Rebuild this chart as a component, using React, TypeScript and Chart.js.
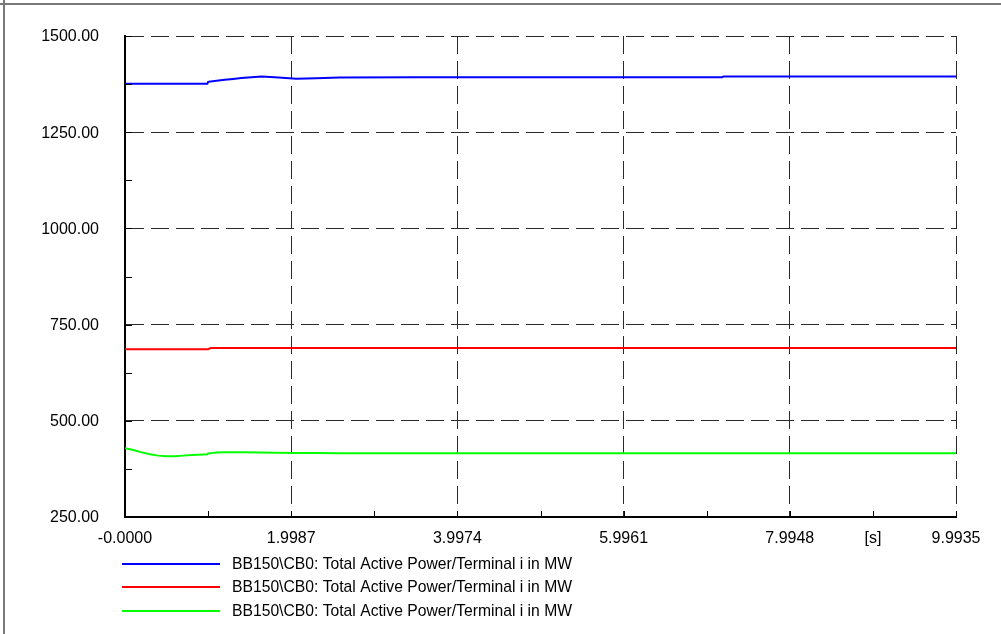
import React, { useEffect, useRef } from "react";
import { Chart, registerables } from "chart.js";

Chart.register(...registerables);

// ---- data ----
const times = [0, 0.1, 0.2, 0.3, 0.4, 0.5, 0.6, 0.7, 0.8, 0.95, 0.99, 1.0, 1.03, 1.1, 1.2, 1.3, 1.4, 1.64, 1.8, 2.06, 2.3, 2.58, 3.5, 7.18, 7.2, 9.9935];
const blueValues = [1376, 1376, 1376, 1376, 1376, 1376, 1376, 1376, 1376, 1376, 1376, 1381, 1382, 1383.5, 1386, 1388.5, 1391, 1395, 1393, 1389, 1390, 1392, 1393, 1393, 1395, 1395];
const redValues = [686, 686, 686, 686, 686, 686, 686, 686, 686, 686, 686, 686, 689, 689, 689, 689, 689, 689, 689, 689, 689, 689, 689, 689, 689, 689];
const greenValues = [428.5, 424, 418, 413, 409.5, 408, 408, 409.5, 411, 412.5, 413, 415, 416, 417.5, 418, 418, 418, 417.5, 417, 416, 416, 415.5, 415.5, 415.5, 415.5, 415.5];

const seriesLabels = [
  "BB150\\CB0: Total Active Power/Terminal i in MW",
  "BB150\\CB0: Total Active Power/Terminal i in MW",
  "BB150\\CB0: Total Active Power/Terminal i in MW",
];
const seriesColors = ["#0000ff", "#ff0000", "#00ff00"];

const xMin = 0;
const xMax = 9.9935;
const xStep = 0.99935; // minor step; every 2nd is a labelled major tick
const xUnitLabel = "[s]";
const yMin = 250;
const yMax = 1500;
const yStep = 125; // minor step; every 2nd is a labelled major tick

const FONT = 'Arial, "Liberation Sans", sans-serif';

export default function App() {
  const ref = useRef<HTMLCanvasElement | null>(null);

  useEffect(() => {
    const canvas = ref.current;
    if (!canvas) return;

    const series = [blueValues, redValues, greenValues];

    const framePlugin = {
      id: "frame",
      beforeDraw(chart: any) {
        const ctx = chart.ctx;
        ctx.save();
        ctx.fillStyle = "#ffffff";
        ctx.fillRect(0, 0, chart.width, chart.height);
        ctx.fillStyle = "#7a7a7a";
        ctx.fillRect(0, 3, chart.width, 2);
        ctx.fillRect(3, 0, 2, chart.height);
        ctx.restore();
      },
      afterDraw(chart: any) {
        const ctx = chart.ctx;
        const xs = chart.scales.x;
        const ys = chart.scales.y;
        const area = chart.chartArea;
        ctx.save();
        // inward tick marks
        ctx.strokeStyle = "#000000";
        ctx.lineWidth = 1;
        ctx.beginPath();
        for (let i = 1; i * xStep <= xMax + 1e-6; i++) {
          const px = Math.round(xs.getPixelForValue(i * xStep)) + 0.5;
          ctx.moveTo(px, area.bottom);
          ctx.lineTo(px, area.bottom - 6);
        }
        for (let v = yMin + yStep; v <= yMax + 1e-6; v += yStep) {
          const py = Math.round(ys.getPixelForValue(v)) + 0.5;
          ctx.moveTo(area.left, py);
          ctx.lineTo(area.left + 7, py);
        }
        ctx.stroke();
        // legend
        ctx.font = "15.7px " + FONT;
        ctx.textBaseline = "middle";
        ctx.textAlign = "left";
        const rowY = [564, 587, 611];
        chart.data.datasets.forEach((ds: any, i: number) => {
          ctx.strokeStyle = ds.borderColor;
          ctx.lineWidth = 2;
          ctx.beginPath();
          ctx.moveTo(122, rowY[i]);
          ctx.lineTo(220, rowY[i]);
          ctx.stroke();
          ctx.fillStyle = "#000000";
          ctx.fillText(ds.label, 232, rowY[i] + 1);
        });
        ctx.restore();
      },
    };

    const isMajorX = (v: number) => Math.abs(Math.round(v / xStep) % 2) === 0;

    const chart = new Chart(canvas, {
      type: "line",
      data: {
        datasets: series.map((vals, i) => ({
          label: seriesLabels[i],
          data: times.map((t, k) => ({ x: t, y: vals[k] })),
          borderColor: seriesColors[i],
          backgroundColor: seriesColors[i],
          borderWidth: 2,
          pointRadius: 0,
          tension: 0,
          fill: false,
        })),
      },
      options: {
        animation: false,
        responsive: false,
        maintainAspectRatio: false,
        layout: { padding: { left: 0, top: 36, right: 45, bottom: 0 } },
        plugins: {
          legend: { display: false },
          tooltip: { enabled: false },
        },
        scales: {
          x: {
            type: "linear",
            min: xMin,
            max: xMax,
            afterFit(scale: any) {
              scale.height = 117;
            },
            afterBuildTicks(scale: any) {
              const ticks = [];
              for (let i = 0; i <= 10; i++) ticks.push({ value: i * xStep });
              scale.ticks = ticks;
            },
            ticks: {
              autoSkip: false,
              maxRotation: 0,
              padding: 12,
              color: "#000000",
              font: { family: FONT, size: 16 },
              callback(value: any, index: number) {
                if (index === 0) return "-0.0000";
                if (index === 9) return xUnitLabel;
                if (index % 2 === 0) return (index * xStep).toFixed(4);
                return "";
              },
            },
            grid: {
              drawTicks: false,
              lineWidth: 1,
              color(ctx: any) {
                const v = ctx.tick ? ctx.tick.value : 0;
                if (v <= 1e-9) return "rgba(0,0,0,0)";
                return isMajorX(v) ? "#2a2a2a" : "rgba(0,0,0,0)";
              },
            },
            border: { display: true, color: "#000000", width: 2, dash: [18, 7] as any },
          },
          y: {
            type: "linear",
            min: yMin,
            max: yMax,
            afterFit(scale: any) {
              scale.width = 125;
            },
            ticks: {
              stepSize: yStep,
              autoSkip: false,
              padding: 26,
              labelOffset: 1,
              color: "#000000",
              font: { family: FONT, size: 16 },
              callback(value: any) {
                const v = Number(value);
                return Math.round(v) % 250 === 0 ? v.toFixed(2) : "";
              },
            },
            grid: {
              drawTicks: false,
              lineWidth: 1,
              color(ctx: any) {
                const v = ctx.tick ? ctx.tick.value : 0;
                if (v <= yMin) return "rgba(0,0,0,0)";
                return Math.round(v) % 250 === 0 ? "#2a2a2a" : "rgba(0,0,0,0)";
              },
            },
            border: { display: true, color: "#000000", width: 2, dash: [18, 7] as any },
          },
        },
      } as any,
      plugins: [framePlugin],
    });

    return () => chart.destroy();
  }, []);

  return (
    <div style={{ position: "fixed", left: 0, top: 0, width: 1001, height: 634, background: "#fff" }}>
      <canvas ref={ref} width={1001} height={634} style={{ width: 1001, height: 634, display: "block" }} />
    </div>
  );
}
